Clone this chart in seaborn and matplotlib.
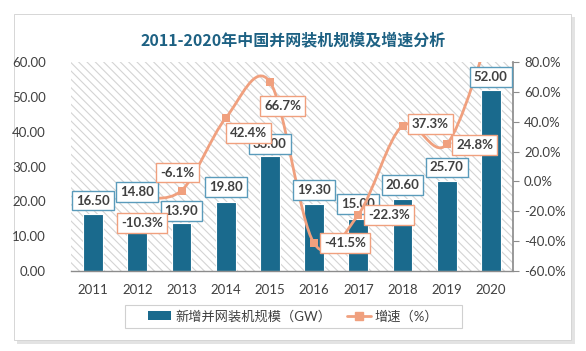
import numpy as np
import pandas as pd
import matplotlib
matplotlib.use("Agg")
import matplotlib.pyplot as plt
from matplotlib.path import Path
from matplotlib.patches import PathPatch, Rectangle
from matplotlib.lines import Line2D
import seaborn as sns

years = ["2011", "2012", "2013", "2014", "2015", "2016", "2017", "2018", "2019", "2020"]
capacity = [16.5, 14.8, 13.9, 19.8, 33.0, 19.3, 15.0, 20.6, 25.7, 52.0]
growth_years = ["2012", "2013", "2014", "2015", "2016", "2017", "2018", "2019", "2020"]
growth = [-10.3, -6.1, 42.4, 66.7, -41.5, -22.3, 37.3, 24.8, 102.3]

title = "2011-2020年中国并网装机规模及增速分析"
bar_name = "新增并网装机规模（GW）"
line_name = "增速（%）"

# label offsets in pixels and stacking (layout only)
bar_lab_dy = [13, 27, 12, 15, 12, 14, 15, 14, 14, 13]
bar_lab_z = [5, 5, 5, 5, 5, 5, 1.5, 5, 5, 5]
line_lab_off = [(5, -26), (-4, 18), (23, -15), (13, -24), (31, 0), (31, 0), (28, 2), (28, -1), (0, 0)]

BAR = "#1a6a8d"
LINE = "#f0a07e"
TXT = "#404040"

sns.set_theme(style="white")
plt.rcParams["font.family"] = ["Lato", "Noto Sans CJK SC", "DejaVu Sans"]
plt.rcParams["hatch.linewidth"] = 0.8

fig = plt.figure(figsize=(5.86, 3.51), dpi=100)
fig.patch.set_facecolor("white")

# outer card with shadow
fig.patches.append(Rectangle((17 / 586, 1 - 344 / 351), 558 / 586, 327 / 351,
                             transform=fig.transFigure, facecolor="#e3e3e3",
                             edgecolor="none", zorder=-2))
fig.patches.append(Rectangle((14 / 586, 1 - 340 / 351), 557 / 586, 326 / 351,
                             transform=fig.transFigure, facecolor="white",
                             edgecolor="#d0d0d0", linewidth=0.6, zorder=-1))
# legend frame
fig.patches.append(Rectangle((125 / 586, 1 - 328 / 351), 337 / 586, 23 / 351,
                             transform=fig.transFigure, facecolor="white",
                             edgecolor="#d0d0d0", linewidth=0.8, zorder=-0.5))

ax = fig.add_axes([71 / 586, 1 - 271 / 351, 442 / 586, 209 / 351])
ax.set_facecolor("none")
ax.add_patch(Rectangle((0, 0), 1, 1, transform=ax.transAxes, facecolor="white",
                       edgecolor="#d4d4d4", hatch="\\\\\\\\", linewidth=0, zorder=0))

df = pd.DataFrame({"year": years, "cap": capacity})
sns.barplot(data=df, x="year", y="cap", ax=ax, color=BAR, width=0.45,
            saturation=1, edgecolor="white", linewidth=0.8, zorder=2)
ax.set_ylim(0, 60)
ax.set_xlim(-0.5, len(years) - 0.5)
ax.set_yticks(np.arange(0, 61, 10))
ax.set_yticklabels([f"{v:.2f}" for v in np.arange(0, 61, 10)])
ax.set_xlabel("")
ax.set_ylabel("")
for s in ["top", "right", "left"]:
    ax.spines[s].set_visible(False)
ax.spines["bottom"].set_color("#8c8c8c")
ax.spines["bottom"].set_linewidth(1)
ax.tick_params(axis="y", length=0, pad=18, labelsize=9.5, labelcolor=TXT)
ax.tick_params(axis="x", length=0, pad=9, labelsize=9.5, labelcolor=TXT)

ax2 = ax.twinx()
ax2.set_facecolor("none")
ax2.set_ylim(-60, 80)
ax2.set_yticks(np.arange(-60, 81, 20))
ax2.set_yticklabels([f"{v:.1f}%" for v in np.arange(-60, 81, 20)])
for s in ["top", "left", "bottom"]:
    ax2.spines[s].set_visible(False)
ax2.spines["right"].set_color("#8c8c8c")
ax2.tick_params(axis="y", right=True, length=4, width=0.8, color="#8c8c8c",
                pad=4, labelsize=9.5, labelcolor=TXT, direction="out")

# bar value labels, placed on the top axes so they can stack with the line
for i, v in enumerate(capacity):
    ax2.annotate(f"{v:.2f}", (i, v), xycoords=ax.transData, xytext=(0, bar_lab_dy[i]),
                 textcoords="offset pixels", ha="center", va="center", fontsize=9.5,
                 fontweight="bold", color=TXT, zorder=bar_lab_z[i],
                 bbox=dict(boxstyle="square,pad=0.3", facecolor="white", edgecolor="#5a9bbb", linewidth=1))

# smoothed line (catmull-rom style bezier, like Excel smoothing)
gx = np.array([years.index(y) for y in growth_years], dtype=float)
gy = np.array(growth, dtype=float)
pts = np.column_stack([gx, gy])
verts = [pts[0]]
codes = [Path.MOVETO]
n = len(pts)
for i in range(n - 1):
    p0 = pts[max(i - 1, 0)]
    p1 = pts[i]
    p2 = pts[i + 1]
    p3 = pts[min(i + 2, n - 1)]
    c1 = p1 + (p2 - p0) / 6
    c2 = p2 - (p3 - p1) / 6
    verts += [c1, c2, p2]
    codes += [Path.CURVE4] * 3
ax2.add_patch(PathPatch(Path(verts, codes), facecolor="none", edgecolor=LINE,
                        linewidth=2, zorder=2))
sns.scatterplot(x=gx, y=gy, ax=ax2, marker="s", s=36, color=LINE, edgecolor=LINE,
                linewidth=0, zorder=3, legend=False)

for (xv, yv), (dx, dy) in zip(pts, line_lab_off):
    if yv > 80:
        continue
    ax2.annotate(f"{yv:.1f}%", (xv, yv), xytext=(dx, dy), textcoords="offset pixels",
                 ha="center", va="center", fontsize=9.5, fontweight="bold", color=TXT, zorder=6,
                 bbox=dict(boxstyle="square,pad=0.3", facecolor="white", edgecolor=LINE, linewidth=1))

fig.text(293 / 586, 1 - 40 / 351, title, ha="center", va="center", fontsize=11.5,
         fontweight="bold", color="#1d6183", family=["Noto Sans CJK SC", "DejaVu Sans"])

handles = [Rectangle((0, 0), 1, 1, facecolor=BAR, edgecolor="none"),
           Line2D([0], [0], color=LINE, linewidth=2, marker="s", markersize=6)]
leg = fig.legend(handles, [bar_name, line_name], loc="center",
                 bbox_to_anchor=(293 / 586, 1 - 316 / 351), ncol=2, frameon=False,
                 fontsize=9.5, handlelength=1.8, handletextpad=0.3, columnspacing=1.2,
                 borderpad=0.3)
for t in leg.get_texts():
    t.set_color(TXT)

fig.savefig("out.png", dpi=100)
